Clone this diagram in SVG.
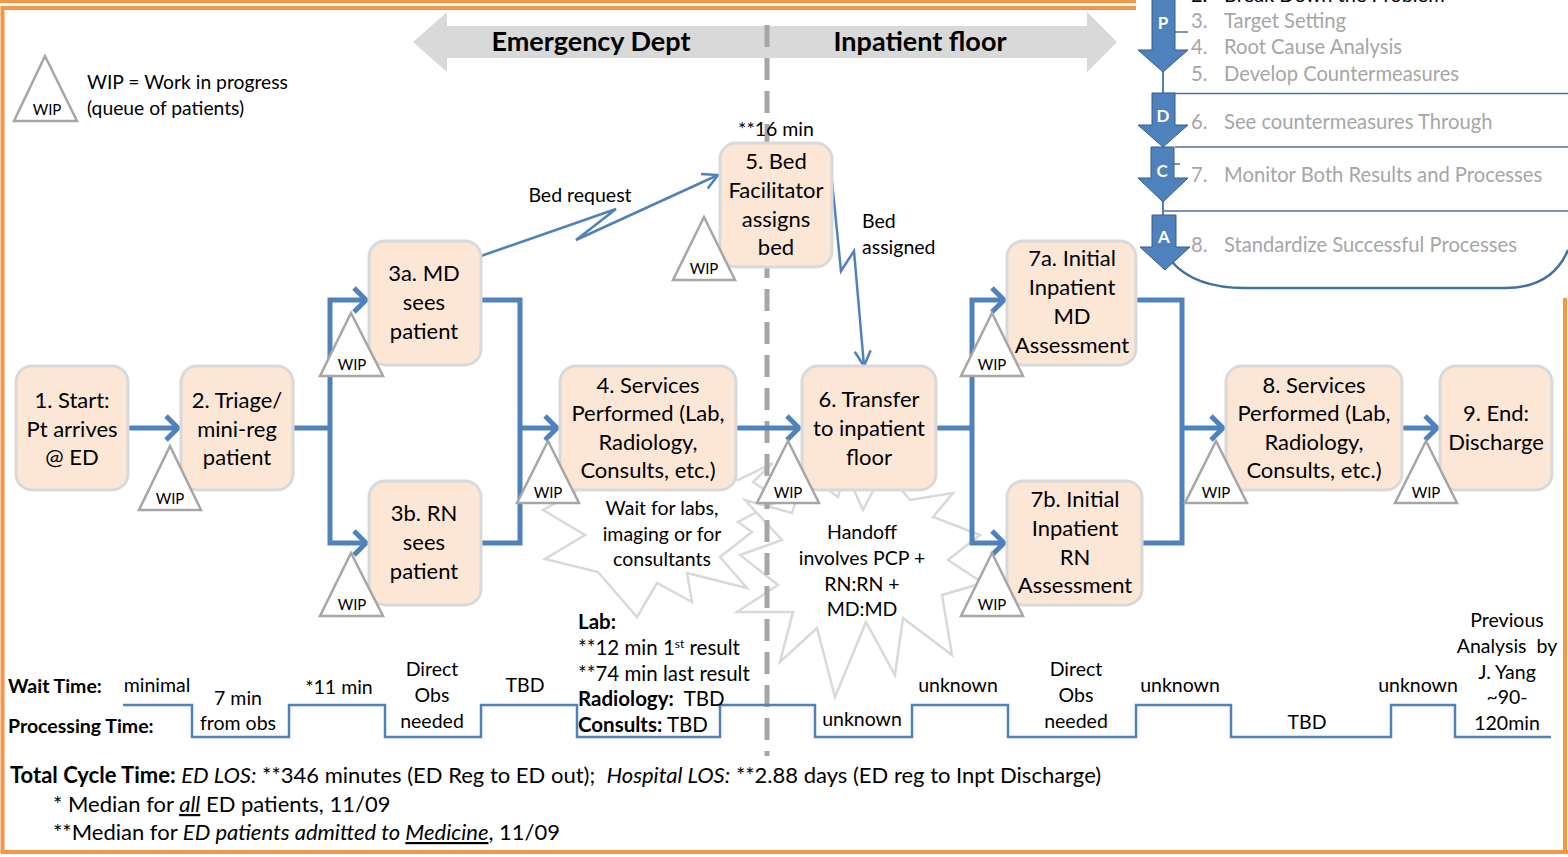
<svg xmlns="http://www.w3.org/2000/svg" width="1568" height="857" viewBox="0 0 1568 857">
<style>
text{font-family:Lato,"Open Sans","Liberation Sans",sans-serif;fill:#000}
.nt{font-size:22px;text-anchor:middle}
.n{fill:#FCE6D6;stroke:#D9D9D9;stroke-width:3}
.w{fill:#fff;stroke:#A6A6A6;stroke-width:2.5}
.wt{font-size:15px;text-anchor:middle}
.c{fill:none;stroke:#4F81BD;stroke-width:5;stroke-linejoin:miter}
.th{fill:none;stroke:#4F81BD;stroke-width:2.5;stroke-linejoin:miter}
.st{fill:#fff;stroke:#D9D9D9;stroke-width:2.5;stroke-linejoin:miter}
.tl{font-size:19.5px}
.tm{font-size:19.5px;text-anchor:middle}
.lab{font-size:20.5px}
.pd{font-size:20.2px;fill:#A6A6A6}
.pl{font-size:17px;font-weight:bold;fill:#fff;text-anchor:middle}
.pa{fill:#4F81BD;stroke:#385D8A;stroke-width:1}
.or{fill:none;stroke:#F79646}
</style>
<defs>
<marker id="ah" markerUnits="userSpaceOnUse" markerWidth="40" markerHeight="40" viewBox="-20 -20 40 40" refX="0" refY="0" orient="auto" overflow="visible"><path d="M-12,-12 L0,0 L-12,12" fill="none" stroke="#4F81BD" stroke-width="5"/></marker>
<marker id="ahs" markerUnits="userSpaceOnUse" markerWidth="40" markerHeight="40" viewBox="-20 -20 40 40" refX="0" refY="0" orient="auto" overflow="visible"><path d="M-15,-8 L0,0 L-15,8" fill="none" stroke="#4F81BD" stroke-width="2.5"/></marker>
</defs>
<rect width="1568" height="857" fill="#fff"/>

<g id="frame">
<line class="or" x1="0" y1="1.5" x2="1136" y2="1.5" stroke-width="3"/>
<path class="or" d="M1136,8 H2.5 V852 H1568" stroke-width="4"/>
<line class="or" x1="1565" y1="298" x2="1565" y2="852" stroke-width="4"/>
</g>

<g id="banner">
<polygon points="413,42 447,12 447,26 1087,26 1087,12 1117,42 1087,72 1087,58 447,58 447,72" fill="#D9D9D9"/>
<text x="591" y="51" font-size="27" font-weight="bold" text-anchor="middle">Emergency Dept</text>
<text x="920" y="51" font-size="27" font-weight="bold" text-anchor="middle">Inpatient floor</text>
</g>

<g id="legend">
<polygon class="w" points="45,56 14,121 77,121"/>
<text class="wt" x="47" y="115">WIP</text>
<text x="87" y="89" font-size="19.3">WIP = Work in progress</text>
<text x="87" y="115" font-size="19.3">(queue of patients)</text>
</g>

<g id="pdca">
<text x="1191" y="2" font-size="20" fill="#1a1a1a">2.</text>
<text x="1224" y="2" font-size="20" fill="#1a1a1a">Break Down the Problem</text>
<text class="pd" x="1191" y="28">3.</text><text class="pd" x="1224" y="28">Target Setting</text>
<text class="pd" x="1191" y="54">4.</text><text class="pd" x="1224" y="54">Root Cause Analysis</text>
<text class="pd" x="1191" y="81">5.</text><text class="pd" x="1224" y="81">Develop Countermeasures</text>
<text class="pd" x="1191" y="129">6.</text><text class="pd" x="1224" y="129">See countermeasures Through</text>
<text class="pd" x="1191" y="182">7.</text><text class="pd" x="1224" y="182">Monitor Both Results and Processes</text>
<text class="pd" x="1191" y="252">8.</text><text class="pd" x="1224" y="252">Standardize Successful Processes</text>
<g fill="none" stroke="#4F6FA5" stroke-width="1.5">
<line x1="1163" y1="93.5" x2="1568" y2="93.5"/>
<line x1="1175" y1="147" x2="1568" y2="147"/>
<line x1="1163" y1="211" x2="1568" y2="211"/>
<line x1="1166" y1="32" x2="1188" y2="32"/>
<line x1="1166" y1="164" x2="1180" y2="164"/>
</g>
<path d="M1172,262 Q1195,288 1245,288 L1505,288 Q1552,288 1568,250" fill="none" stroke="#41719C" stroke-width="2.5"/>
<line x1="1163" y1="70" x2="1163" y2="95" stroke="#4F81BD" stroke-width="2"/>
<line x1="1163" y1="200" x2="1163" y2="217" stroke="#4F81BD" stroke-width="2"/>
<polygon class="pa" points="1152,-2 1175,-2 1175,50 1188,50 1163,72 1138,50 1152,50"/>
<polygon class="pa" points="1152,93 1175,93 1175,125 1188,125 1163,147 1138,125 1152,125"/>
<polygon class="pa" points="1151,147 1174,147 1174,178 1188,178 1163,202 1138,178 1151,178"/>
<polygon class="pa" points="1152,215 1176,215 1176,247 1190,247 1165,270 1140,247 1152,247"/>
<text class="pl" x="1163" y="29">P</text>
<text class="pl" x="1163" y="122">D</text>
<text class="pl" x="1162" y="177">C</text>
<text class="pl" x="1164" y="243">A</text>
</g>

<g id="bursts">
<polygon class="st" points="543,510 585,535 545,559 598,572 637,617 657,583 692,602 687,573 747,588 720,557 752,532 738,522 780,500 753,482 773,463 738,480 705,458 670,490 630,458 600,490 570,460 575,492"/>
<polygon class="st" points="745,500 792,513 805,472 838,497 845,470 863,510 884,470 910,500 953,493 933,517 980,535 948,560 983,583 942,595 952,655 903,618 895,675 866,622 835,697 817,628 780,662 793,612 737,612 778,585 740,555 782,540"/>
</g>

<line id="divider" x1="767" y1="25" x2="767" y2="756" stroke="#A6A6A6" stroke-width="5" stroke-dasharray="22 11"/>

<g id="connectors">
<path class="c" d="M128,428 H178" marker-end="url(#ah)"/>
<path class="c" d="M293,428 H330"/>
<path class="c" d="M330,428 V300 H366" marker-end="url(#ah)"/>
<path class="c" d="M330,428 V543 H366" marker-end="url(#ah)"/>
<path class="c" d="M481,300 H520 V543 H481"/>
<path class="c" d="M520,428 H557" marker-end="url(#ah)"/>
<path class="c" d="M736,428 H799" marker-end="url(#ah)"/>
<path class="c" d="M936,428 H972"/>
<path class="c" d="M972,428 V300 H1004" marker-end="url(#ah)"/>
<path class="c" d="M972,428 V543 H1004" marker-end="url(#ah)"/>
<path class="c" d="M1136,300 H1182 V543 H1142"/>
<path class="c" d="M1182,428 H1223" marker-end="url(#ah)"/>
<path class="c" d="M1402,428 H1437" marker-end="url(#ah)"/>
<path class="th" d="M481,256 L616,209 L576,240 L718,175" marker-end="url(#ahs)"/>
<path class="th" d="M832,181 L841,271 L854,251 L864,366" marker-end="url(#ahs)"/>
<text class="tm" x="580" y="202">Bed request</text>
<text class="tl" x="862" y="228">Bed</text>
<text class="tl" x="862" y="254">assigned</text>
</g>

<g id="n1"><rect class="n" x="16" y="366" width="112" height="124" rx="16"/>
<text class="nt" x="72" y="408">1. Start:</text><text class="nt" x="72" y="437">Pt arrives</text><text class="nt" x="72" y="465">@ ED</text></g>
<g id="n2"><rect class="n" x="181" y="366" width="112" height="124" rx="16"/>
<text class="nt" x="237" y="408">2. Triage/</text><text class="nt" x="237" y="437">mini-reg</text><text class="nt" x="237" y="465">patient</text></g>
<g id="n3a"><rect class="n" x="369" y="241" width="112" height="124" rx="16"/>
<text class="nt" x="424" y="281">3a. MD</text><text class="nt" x="424" y="310">sees</text><text class="nt" x="424" y="339">patient</text></g>
<g id="n3b"><rect class="n" x="369" y="481" width="112" height="124" rx="16"/>
<text class="nt" x="424" y="521">3b. RN</text><text class="nt" x="424" y="550">sees</text><text class="nt" x="424" y="579">patient</text></g>
<g id="n4"><rect class="n" x="560" y="366" width="176" height="124" rx="16"/>
<text class="nt" x="648" y="393">4. Services</text><text class="nt" x="648" y="421">Performed (Lab,</text><text class="nt" x="648" y="450">Radiology,</text><text class="nt" x="648" y="478">Consults, etc.)</text></g>
<g id="n5"><rect class="n" x="720" y="143" width="112" height="124" rx="16"/>
<text class="tm" x="776" y="136">**16 min</text>
<text class="nt" x="776" y="169">5. Bed</text><text class="nt" x="776" y="198">Facilitator</text><text class="nt" x="776" y="227">assigns</text><text class="nt" x="776" y="255">bed</text></g>
<g id="n6"><rect class="n" x="802" y="366" width="134" height="124" rx="16"/>
<text class="nt" x="869" y="407">6. Transfer</text><text class="nt" x="869" y="436">to inpatient</text><text class="nt" x="869" y="465">floor</text></g>
<g id="n7a"><rect class="n" x="1007" y="241" width="129" height="124" rx="16"/>
<text class="nt" x="1072" y="266">7a. Initial</text><text class="nt" x="1072" y="295">Inpatient</text><text class="nt" x="1072" y="324">MD</text><text class="nt" x="1072" y="353">Assessment</text></g>
<g id="n7b"><rect class="n" x="1007" y="481" width="135" height="124" rx="16"/>
<text class="nt" x="1075" y="507">7b. Initial</text><text class="nt" x="1075" y="536">Inpatient</text><text class="nt" x="1075" y="565">RN</text><text class="nt" x="1075" y="593">Assessment</text></g>
<g id="n8"><rect class="n" x="1226" y="366" width="176" height="124" rx="16"/>
<text class="nt" x="1314" y="393">8. Services</text><text class="nt" x="1314" y="421">Performed (Lab,</text><text class="nt" x="1314" y="450">Radiology,</text><text class="nt" x="1314" y="478">Consults, etc.)</text></g>
<g id="n9"><rect class="n" x="1440" y="366" width="112" height="124" rx="16"/>
<text class="nt" x="1496" y="421">9. End:</text><text class="nt" x="1496" y="450">Discharge</text></g>

<g id="wip2"><polygon class="w" points="170,446 139,510 201,510"/><text class="wt" x="170" y="504">WIP</text></g>
<g id="wip3a"><polygon class="w" points="351,313 320,376 383,376"/><text class="wt" x="352" y="370">WIP</text></g>
<g id="wip3b"><polygon class="w" points="351,553 320,616 383,616"/><text class="wt" x="352" y="610">WIP</text></g>
<g id="wip4"><polygon class="w" points="548,441 517,503 579,503"/><text class="wt" x="548" y="498">WIP</text></g>
<g id="wip5"><polygon class="w" points="704,217 673,280 735,280"/><text class="wt" x="704" y="274">WIP</text></g>
<g id="wip6"><polygon class="w" points="788,441 757,503 819,503"/><text class="wt" x="788" y="498">WIP</text></g>
<g id="wip7a"><polygon class="w" points="992,313 961,376 1023,376"/><text class="wt" x="992" y="370">WIP</text></g>
<g id="wip7b"><polygon class="w" points="992,553 961,616 1023,616"/><text class="wt" x="992" y="610">WIP</text></g>
<g id="wip8"><polygon class="w" points="1216,441 1185,503 1247,503"/><text class="wt" x="1216" y="498">WIP</text></g>
<g id="wip9"><polygon class="w" points="1426,441 1395,503 1457,503"/><text class="wt" x="1426" y="498">WIP</text></g>

<g id="burst-text">
<text class="tm" x="662" y="515">Wait for labs,</text>
<text class="tm" x="662" y="541">imaging or for</text>
<text class="tm" x="662" y="566">consultants</text>
<text class="tm" x="862" y="539">Handoff</text>
<text class="tm" x="862" y="565">involves PCP +</text>
<text class="tm" x="862" y="591">RN:RN +</text>
<text class="tm" x="862" y="616">MD:MD</text>
</g>

<g id="timeline">
<path d="M123,705 H192 V737 H289 V705 H385 V737 H481 V705 H577 V737 H720 V705 H815 V737 H912 V705 H1008 V737 H1136 V705 H1231 V737 H1391 V705 H1455 V737 H1551" fill="none" stroke="#4F81BD" stroke-width="2.5"/>
<text class="tl" x="8" y="693" font-weight="bold">Wait Time:</text>
<text class="tl" x="8" y="733" font-weight="bold">Processing Time:</text>
<text class="tm" x="157" y="692">minimal</text>
<text class="tm" x="238" y="705">7 min</text>
<text class="tm" x="238" y="730">from obs</text>
<text class="tm" x="339" y="694">*11 min</text>
<text class="tm" x="432" y="676">Direct</text>
<text class="tm" x="432" y="702">Obs</text>
<text class="tm" x="432" y="728">needed</text>
<text class="tm" x="525" y="692">TBD</text>
<text class="lab" x="578" y="629" font-weight="bold">Lab:</text>
<text class="lab" x="578" y="655">**12 min 1<tspan dy="-7" font-size="12">st</tspan><tspan dy="7"> result</tspan></text>
<text class="lab" x="578" y="681">**74 min last result</text>
<text class="lab" x="578" y="706"><tspan font-weight="bold">Radiology:</tspan>&#160; TBD</text>
<text class="lab" x="578" y="732"><tspan font-weight="bold">Consults:</tspan> TBD</text>
<text class="tm" x="862" y="726">unknown</text>
<text class="tm" x="958" y="692">unknown</text>
<text class="tm" x="1076" y="676">Direct</text>
<text class="tm" x="1076" y="702">Obs</text>
<text class="tm" x="1076" y="728">needed</text>
<text class="tm" x="1180" y="692">unknown</text>
<text class="tm" x="1307" y="729">TBD</text>
<text class="tm" x="1418" y="692">unknown</text>
<text class="tm" x="1507" y="627">Previous</text>
<text class="tm" x="1507" y="653">Analysis&#160; by</text>
<text class="tm" x="1507" y="679">J. Yang</text>
<text class="tm" x="1507" y="704">~90-</text>
<text class="tm" x="1507" y="730">120min</text>
</g>

<g id="notes">
<text x="10" y="783" font-size="22"><tspan font-weight="bold">Total Cycle Time:</tspan> <tspan font-style="italic">ED LOS:</tspan> **346 minutes (ED Reg to ED out);&#160; <tspan font-style="italic">Hospital LOS:</tspan> **2.88 days (ED reg to Inpt Discharge)</text>
<text x="53" y="812" font-size="22">* Median for <tspan font-style="italic" text-decoration="underline">all</tspan> ED patients, 11/09</text>
<text x="53" y="840" font-size="22">**Median for <tspan font-style="italic">ED patients admitted to </tspan><tspan font-style="italic" text-decoration="underline">Medicine</tspan>, 11/09</text>
</g>
</svg>
